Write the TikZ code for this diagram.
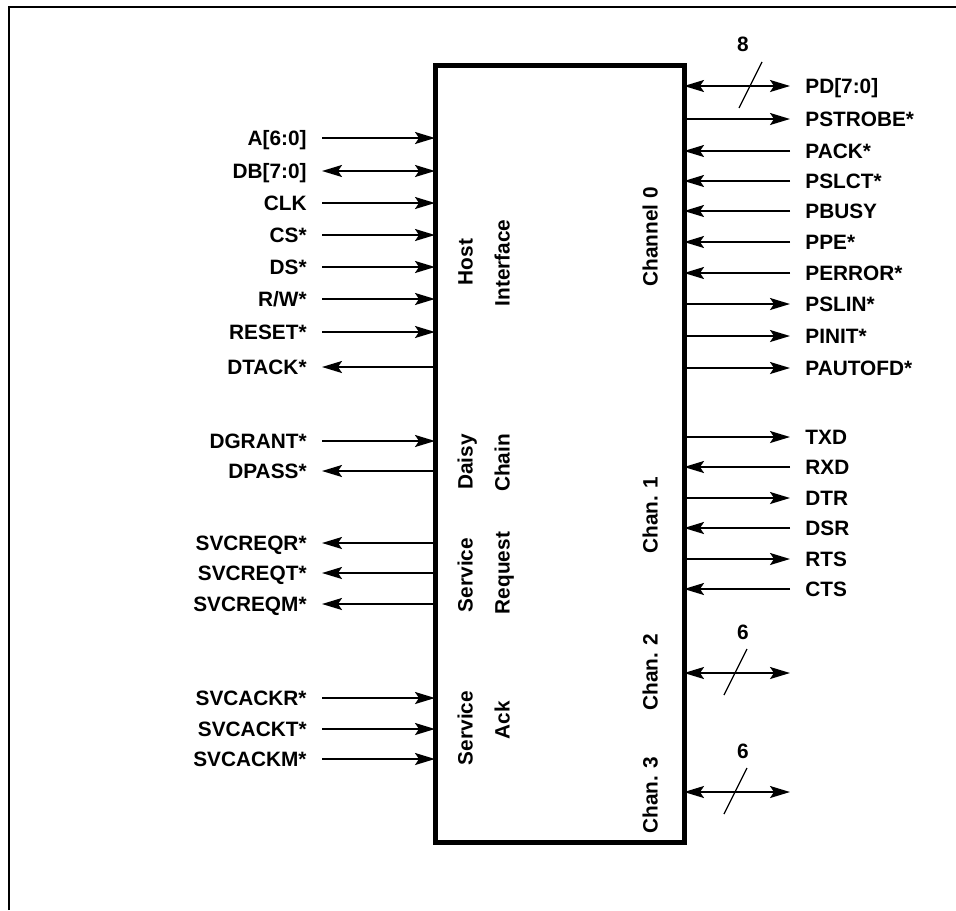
\documentclass[tikz,border=0pt]{standalone}
\usepackage{fontspec}
\setmainfont{Liberation Sans}
\usepackage{tikz}
\usetikzlibrary{arrows.meta,positioning,calc}
\tikzset{
  chipbox/.style={draw,line width=2.5pt,minimum width=124.5pt,minimum height=388.5pt,inner sep=0pt,outer sep=0pt},
  lpin/.style={anchor=east,inner sep=0pt,text height=7.5pt,text depth=0pt},
  rpin/.style={anchor=west,inner sep=0pt,text height=7.5pt,text depth=0pt},
  blk/.style={rotate=90,inner sep=0pt,text height=7.5pt,text depth=0pt},
  buswd/.style={inner sep=0pt},
  arr/.style={-{Stealth[length=10pt,width=6pt,inset=2pt]},line width=1pt},
  barr/.style={{Stealth[length=10pt,width=6pt,inset=2pt]}-{Stealth[length=10pt,width=6pt,inset=2pt]},line width=1pt},
  slash/.style={line width=0.6pt},
}
\begin{document}
\begin{tikzpicture}[x=0.5pt,y=-0.5pt,font=\fontsize{10.4}{12}\selectfont\bfseries]
        \useasboundingbox (0,0) rectangle (956,910);
        \draw[line width=1.2pt] (9,910) -- (9,7) -- (956,7);
        \node[chipbox] (chip) at (559.5,453.5) {};
        % block names inside the chip
        \node[blk] (host)  at (465,262) {Host};
        \node[blk] (intf)  at (502,263) {Interface};
        \node[blk] (daisy) at (465,462) {Daisy};
        \node[blk] (chain) at (502,463) {Chain};
        \node[blk] (srv1)  at (465,575) {Service};
        \node[blk] (req)   at (502,573) {Request};
        \node[blk] (srv2)  at (465,728) {Service};
        \node[blk] (ack)   at (502,720) {Ack};
        \node[blk] (ch0)   at (650,237) {Channel 0};
        \node[blk] (ch1)   at (650,515) {Chan. 1};
        \node[blk] (ch2)   at (650,672) {Chan. 2};
        \node[blk] (ch3)   at (650,795) {Chan. 3};
        % host side pins
        \node[lpin] (a)     at (307,138) {A[6:0]};
        \node[lpin] (db)    at (307,171) {DB[7:0]};
        \node[lpin] (clk)   at (307,203) {CLK};
        \node[lpin] (cs)    at (307,235) {CS*};
        \node[lpin] (ds)    at (307,267) {DS*};
        \node[lpin] (rw)    at (307,299) {R/W*};
        \node[lpin] (rst)   at (307,332) {RESET*};
        \node[lpin] (dtack) at (307,367) {DTACK*};
        \node[lpin] (dgnt)  at (307,441) {DGRANT*};
        \node[lpin] (dpass) at (307,471) {DPASS*};
        \node[lpin] (sreqr) at (307,543) {SVCREQR*};
        \node[lpin] (sreqt) at (307,573) {SVCREQT*};
        \node[lpin] (sreqm) at (307,604) {SVCREQM*};
        \node[lpin] (sackr) at (307,698) {SVCACKR*};
        \node[lpin] (sackt) at (307,729) {SVCACKT*};
        \node[lpin] (sackm) at (307,759) {SVCACKM*};
        \draw[arr] ([xshift=7.5pt]a.east) -- (a -| chip.west);
        \draw[barr] ([xshift=7.5pt]db.east) -- (db -| chip.west);
        \draw[arr] ([xshift=7.5pt]clk.east) -- (clk -| chip.west);
        \draw[arr] ([xshift=7.5pt]cs.east) -- (cs -| chip.west);
        \draw[arr] ([xshift=7.5pt]ds.east) -- (ds -| chip.west);
        \draw[arr] ([xshift=7.5pt]rw.east) -- (rw -| chip.west);
        \draw[arr] ([xshift=7.5pt]rst.east) -- (rst -| chip.west);
        \draw[arr] (dtack -| chip.west) -- ([xshift=7.5pt]dtack.east);
        \draw[arr] ([xshift=7.5pt]dgnt.east) -- (dgnt -| chip.west);
        \draw[arr] (dpass -| chip.west) -- ([xshift=7.5pt]dpass.east);
        \draw[arr] (sreqr -| chip.west) -- ([xshift=7.5pt]sreqr.east);
        \draw[arr] (sreqt -| chip.west) -- ([xshift=7.5pt]sreqt.east);
        \draw[arr] (sreqm -| chip.west) -- ([xshift=7.5pt]sreqm.east);
        \draw[arr] ([xshift=7.5pt]sackr.east) -- (sackr -| chip.west);
        \draw[arr] ([xshift=7.5pt]sackt.east) -- (sackt -| chip.west);
        \draw[arr] ([xshift=7.5pt]sackm.east) -- (sackm -| chip.west);
        % printer port (channel 0)
        \node[rpin] (pd)    at (805,86)  {PD[7:0]};
        \node[rpin] (pstb)  at (805,119) {PSTROBE*};
        \node[rpin] (pack)  at (805,151) {PACK*};
        \node[rpin] (pslct) at (805,181) {PSLCT*};
        \node[rpin] (pbusy) at (805,211) {PBUSY};
        \node[rpin] (ppe)   at (805,242) {PPE*};
        \node[rpin] (perr)  at (805,273) {PERROR*};
        \node[rpin] (pslin) at (805,304) {PSLIN*};
        \node[rpin] (pinit) at (805,336) {PINIT*};
        \node[rpin] (pafd)  at (805,368) {PAUTOFD*};
        \draw[barr] (pd -| chip.east) -- ([xshift=-7.5pt]pd.west);
        \draw[arr] (pstb -| chip.east) -- ([xshift=-7.5pt]pstb.west);
        \draw[arr] ([xshift=-7.5pt]pack.west) -- (pack -| chip.east);
        \draw[arr] ([xshift=-7.5pt]pslct.west) -- (pslct -| chip.east);
        \draw[arr] ([xshift=-7.5pt]pbusy.west) -- (pbusy -| chip.east);
        \draw[arr] ([xshift=-7.5pt]ppe.west) -- (ppe -| chip.east);
        \draw[arr] ([xshift=-7.5pt]perr.west) -- (perr -| chip.east);
        \draw[arr] (pslin -| chip.east) -- ([xshift=-7.5pt]pslin.west);
        \draw[arr] (pinit -| chip.east) -- ([xshift=-7.5pt]pinit.west);
        \draw[arr] (pafd -| chip.east) -- ([xshift=-7.5pt]pafd.west);
        \draw[slash] ([shift={(-43,-24)}]pd.west) -- ++(-23,46);
        \node[buswd] (w8) at (743,44) {8};
        % serial port (channel 1)
        \node[rpin] (txd) at (805,437) {TXD};
        \node[rpin] (rxd) at (805,467) {RXD};
        \node[rpin] (dtr) at (805,498) {DTR};
        \node[rpin] (dsr) at (805,528) {DSR};
        \node[rpin] (rts) at (805,559) {RTS};
        \node[rpin] (cts) at (805,589) {CTS};
        \draw[arr] (txd -| chip.east) -- ([xshift=-7.5pt]txd.west);
        \draw[arr] ([xshift=-7.5pt]rxd.west) -- (rxd -| chip.east);
        \draw[arr] (dtr -| chip.east) -- ([xshift=-7.5pt]dtr.west);
        \draw[arr] ([xshift=-7.5pt]dsr.west) -- (dsr -| chip.east);
        \draw[arr] (rts -| chip.east) -- ([xshift=-7.5pt]rts.west);
        \draw[arr] ([xshift=-7.5pt]cts.west) -- (cts -| chip.east);
        % channels 2 and 3
        \coordinate (c2) at (790,673);
        \coordinate (c3) at (790,792);
        \draw[barr] (c2 -| chip.east) -- (c2);
        \draw[barr] (c3 -| chip.east) -- (c3);
        \draw[slash] ([shift={(-43,-24)}]c2) -- ++(-23,46);
        \draw[slash] ([shift={(-43,-24)}]c3) -- ++(-23,46);
        \node[buswd] (w6a) at (743,632) {6};
        \node[buswd] (w6b) at (743,751) {6};
      \end{tikzpicture}
\end{document}
